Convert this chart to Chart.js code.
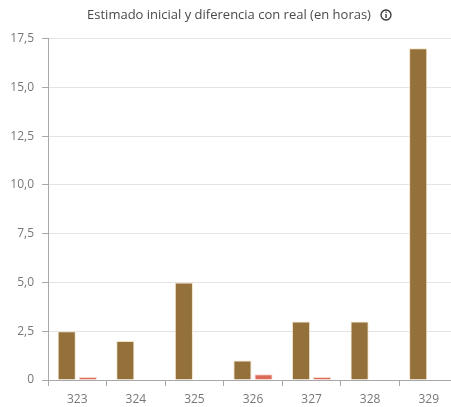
<!DOCTYPE html>
<html>
<head>
<meta charset="utf-8">
<script src="https://cdn.jsdelivr.net/npm/chart.js@4"></script>
<style>
  html, body { margin: 0; padding: 0; background: #fff; overflow: hidden; }
  #wrap { width: 458px; height: 407px; }
</style>
</head>
<body>
<div id="wrap"><canvas id="myChart"></canvas></div>
<script>
var labels = ["323", "324", "325", "326", "327", "328", "329"];
var estimado = [2.5, 2, 5, 1, 3, 3, 17];
var diferencia = [0.15, 0, 0, 0.3, 0.15, 0, 0];
var yTicks = [0, 2.5, 5, 7.5, 10, 12.5, 15, 17.5];

var FONT = "'Open Sans', 'Noto Sans', sans-serif";

// small info icon next to the title
var infoIcon = {
  id: "infoIcon",
  afterDraw: function (chart) {
    var c = chart.ctx;
    c.save();
    c.strokeStyle = "#333";
    c.lineWidth = 1.3;
    c.beginPath();
    c.arc(386, 15, 5, 0, Math.PI * 2);
    c.stroke();
    c.fillStyle = "#333";
    c.fillRect(385.4, 14, 1.3, 4);
    c.fillRect(385.4, 11.6, 1.3, 1.3);
    c.restore();
  },
};

var ctx1 = document.getElementById("myChart").getContext("2d");
var myChart1 = new Chart(ctx1, {
  type: "bar",
  data: {
    labels: labels,
    datasets: [
      {
        label: "Estimado inicial",
        data: estimado,
        backgroundColor: "#94703A",
        borderColor: "#f3e3c6",
        borderWidth: 1,
        categoryPercentage: 0.72,
        barPercentage: 0.86,
      },
      {
        label: "Diferencia con real",
        data: diferencia,
        backgroundColor: "#DB6A56",
        borderColor: "#f6d8cf",
        borderWidth: 1,
        categoryPercentage: 0.72,
        barPercentage: 0.86,
      },
    ],
  },
  plugins: [infoIcon],
  options: {
    responsive: true,
    maintainAspectRatio: false,
    animation: false,
    layout: { padding: { left: 0, right: 0, top: 0, bottom: 0 } },
    plugins: {
      legend: { display: false },
      tooltip: { enabled: false },
      title: {
        display: true,
        text: "Estimado inicial y diferencia con real (en horas)",
        color: "#4a4a4a",
        font: { family: FONT, size: 13, weight: "normal" },
        padding: { top: 7, bottom: 16 },
      },
    },
    scales: {
      x: {
        grid: {
          drawOnChartArea: false,
          tickLength: 6,
          tickColor: "#a8a8a8",
        },
        border: { color: "#a8a8a8", width: 1 },
        ticks: {
          color: "#777",
          padding: 6,
          font: { family: FONT, size: 12 },
        },
        afterFit: function (scale) { scale.height = 27; },
      },
      y: {
        min: 0,
        max: 17.5,
        afterBuildTicks: function (scale) {
          scale.ticks = yTicks.map(function (v) { return { value: v }; });
        },
        grid: {
          color: "#e4e4e4",
          tickLength: 6,
          tickColor: "#a8a8a8",
        },
        border: { color: "#a8a8a8", width: 1 },
        ticks: {
          color: "#777",
          padding: 8,
          font: { family: FONT, size: 12 },
          callback: function (v) {
            return v === 0 ? "0" : v.toFixed(1).replace(".", ",");
          },
        },
        afterFit: function (scale) { scale.width = 48; },
      },
    },
  },
});
</script>
</body>
</html>
